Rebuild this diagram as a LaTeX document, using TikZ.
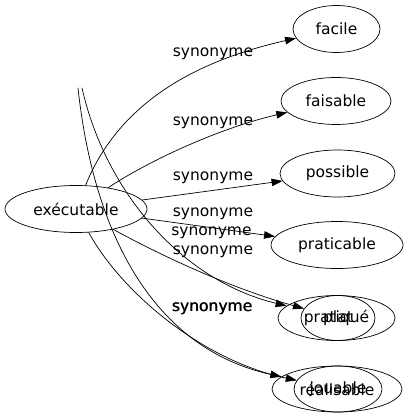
\documentclass[tikz,border=0pt]{standalone}
\usepackage{fontspec}
\setmainfont{DejaVu Sans}
\usetikzlibrary{shapes.geometric,arrows.meta}
\begin{document}
\begin{tikzpicture}[x=1pt,y=-1pt,line join=round,line cap=round,line width=0.7pt,
  >={Triangle[length=11pt,width=7.5pt]},font=\fontsize{15.5}{18}\selectfont,
  mot/.style={draw,ellipse,inner sep=0pt,minimum height=47pt},
  syn/.style={inner sep=0pt}]
\useasboundingbox (0,0) rectangle (408,419);
% les mots
\node[mot,minimum width=142pt] (exe) at (76,209) {exécutable};
\node[mot,minimum width=87pt] (facile) at (336.5,29) {facile};
\node[mot,minimum width=110pt] (faisable) at (336,101) {faisable};
\node[mot,minimum width=115pt] (possible) at (337.5,173.5) {possible};
\node[mot,minimum width=132pt] (praticable) at (337,245) {praticable};
\node[mot,minimum width=117pt,minimum height=45pt] (pratique) at (336.5,318) {pratiqué};
\node[mot,minimum width=74pt,minimum height=45pt] (plat) at (338,318) {plat};
\node[mot,minimum width=130pt,minimum height=46pt] (realisable) at (337,389) {réalisable};
\node[mot,minimum width=88pt,minimum height=46pt] (jouable) at (338,389) {jouable};
\coordinate (haut1) at (78,88);
\coordinate (haut2) at (82,88);
% les etiquettes
\node[syn] (s1) at (213,53.5) {synonyme};
\node[syn] (s2) at (213,122.5) {synonyme};
\node[syn] (s3) at (213,177.5) {synonyme};
\node[syn] (s4) at (213,214) {synonyme};
\node[syn] (s5) at (211.5,233) {synonyme};
\node[syn] (s6) at (213,251.5) {synonyme};
\node[syn] (s7) at (212,309) {synonyme};
\node[syn] (s8) at (212.5,309) {synonyme};
% les fleches
\draw[->] (exe) .. controls (120,100) and (200,60) .. (facile);
\draw[->] (exe) .. controls (150,160) and (220,128) .. (faisable);
\draw[->] (exe) -- (possible);
\draw[->] (exe) -- (praticable);
\draw[->] (exe) .. controls (160,255) and (230,288) .. (plat);
\draw[->] (haut2) .. controls (105,190) and (180,280) .. (pratique);
\draw[->] (haut1) .. controls (95,245) and (160,350) .. (realisable);
\draw[->] (exe) .. controls (120,290) and (200,360) .. (jouable);
\end{tikzpicture}
\end{document}
